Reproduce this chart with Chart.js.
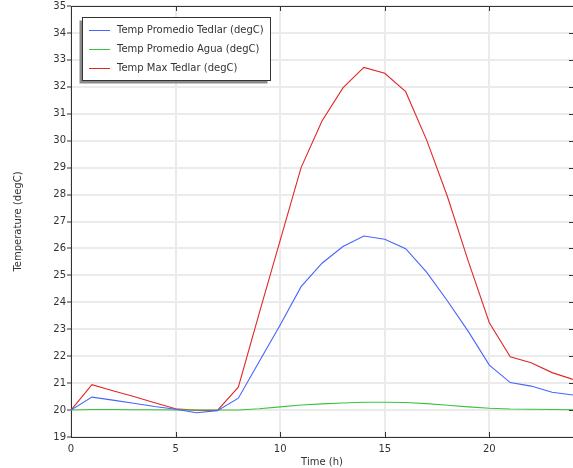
<!DOCTYPE html>
<html>
<head>
<meta charset="utf-8">
<script src="https://cdn.jsdelivr.net/npm/chart.js@4.4.0/dist/chart.umd.min.js"></script>
<style>
  body { margin: 0; background: #fff; }
  canvas { display: block; }
</style>
</head>
<body>
<canvas id="tempChart" width="573" height="468"></canvas>
<script>
// hourly readings, 0..24 h
const hours = [0, 1, 2, 3, 4, 5, 6, 7, 8, 9, 10, 11, 12, 13, 14, 15, 16, 17, 18, 19, 20, 21, 22, 23, 24];
const tedlarAvg = [20.0, 20.48, 20.37, 20.25, 20.13, 20.03, 19.9, 19.98, 20.44, 21.8, 23.16, 24.58, 25.45, 26.07, 26.46, 26.34, 25.99, 25.12, 24.05, 22.91, 21.67, 21.02, 20.89, 20.66, 20.56];
const waterAvg = [20.0, 20.02, 20.02, 20.01, 20.01, 20.0, 20.0, 20.0, 20.0, 20.05, 20.12, 20.19, 20.23, 20.26, 20.29, 20.29, 20.28, 20.24, 20.18, 20.12, 20.07, 20.04, 20.03, 20.02, 20.01];
const tedlarMax = [20.0, 20.94, 20.72, 20.5, 20.27, 20.05, 19.99, 19.99, 20.85, 23.6, 26.3, 29.0, 30.73, 31.96, 32.72, 32.5, 31.82, 30.03, 27.92, 25.51, 23.24, 21.98, 21.76, 21.39, 21.14];

const seriesLabels = ["Temp Promedio Tedlar (degC)", "Temp Promedio Agua (degC)", "Temp Max Tedlar (degC)"];
const seriesColors = ["rgb(70,100,255)", "rgb(60,195,60)", "rgb(225,40,40)"];
const xTickValues = [0, 5, 10, 15, 20];

const FONT = "DejaVu Sans";
const FONT_SIZE = 10;
const AXIS = "#333";

const toPoints = arr => hours.map((h, i) => ({ x: h, y: arr[i] }));

// box frame, inward ticks and the in-plot legend
const frameAndLegend = {
  id: "frameAndLegend",
  afterDatasetsDraw(chart) {
    const { ctx, chartArea: a, scales: { x, y } } = chart;
    ctx.save();
    ctx.strokeStyle = AXIS;
    ctx.lineWidth = 1;
    ctx.beginPath();
    ctx.moveTo(a.left, a.top + 0.5);
    ctx.lineTo(a.right, a.top + 0.5);
    xTickValues.forEach(v => {
      const px = Math.round(x.getPixelForValue(v)) + 0.5;
      ctx.moveTo(px, a.bottom);
      ctx.lineTo(px, a.bottom - 5);
      ctx.moveTo(px, a.top);
      ctx.lineTo(px, a.top + 5);
    });
    y.ticks.forEach(t => {
      const py = Math.round(y.getPixelForValue(t.value)) + 0.5;
      ctx.moveTo(a.right, py);
      ctx.lineTo(a.right - 4, py);
    });
    ctx.stroke();

    // legend box with a drop shadow
    const bx = 82.5, by = 17.5, bw = 188, bh = 63;
    ctx.fillStyle = "#8a8a8a";
    ctx.fillRect(bx - 3, by + 3, bw, bh);
    ctx.fillStyle = "#fff";
    ctx.fillRect(bx, by, bw, bh);
    ctx.strokeStyle = AXIS;
    ctx.strokeRect(bx, by, bw, bh);
    ctx.font = FONT_SIZE + "px '" + FONT + "'";
    ctx.textBaseline = "middle";
    chart.data.datasets.forEach((ds, i) => {
      const ry = 30 + i * 19;
      ctx.strokeStyle = ds.borderColor;
      ctx.beginPath();
      ctx.moveTo(89, ry + 0.5);
      ctx.lineTo(110, ry + 0.5);
      ctx.stroke();
      ctx.fillStyle = AXIS;
      ctx.fillText(ds.label, 117, ry + 0.5);
    });
    ctx.restore();
  }
};

new Chart(document.getElementById("tempChart"), {
  type: "line",
  data: {
    datasets: [
      { label: seriesLabels[0], data: toPoints(tedlarAvg), borderColor: seriesColors[0] },
      { label: seriesLabels[1], data: toPoints(waterAvg), borderColor: seriesColors[1] },
      { label: seriesLabels[2], data: toPoints(tedlarMax), borderColor: seriesColors[2] }
    ]
  },
  options: {
    responsive: false,
    animation: false,
    layout: { padding: { top: 6, right: 0, left: 0, bottom: 0 } },
    elements: {
      line: { borderWidth: 1.1, tension: 0, fill: false },
      point: { radius: 0 }
    },
    plugins: { legend: { display: false }, tooltip: { enabled: false } },
    scales: {
      x: {
        type: "linear",
        min: 0,
        max: 24,
        ticks: { stepSize: 5, color: AXIS, padding: 6, font: { family: FONT, size: FONT_SIZE } },
        afterBuildTicks: s => { s.ticks = xTickValues.map(v => ({ value: v })); },
        afterFit: s => { s.height = 31; s.paddingLeft = 0; s.paddingRight = 0; },
        grid: { color: "#ebebeb", lineWidth: 2, drawTicks: false },
        border: { color: AXIS, width: 1 },
        title: { display: true, text: "Time (h)", color: AXIS, padding: 0, font: { family: FONT, size: FONT_SIZE } }
      },
      y: {
        min: 19,
        max: 35,
        ticks: { stepSize: 1, color: AXIS, padding: 1, font: { family: FONT, size: FONT_SIZE } },
        afterFit: s => { s.width = 71; s.paddingTop = 0; s.paddingBottom = 0; },
        grid: { color: "#ebebeb", lineWidth: 2, tickColor: AXIS, tickLength: 4, tickWidth: 1 },
        border: { color: AXIS, width: 1 },
        title: { display: true, text: "Temperature (degC)", color: AXIS, padding: { top: 12, bottom: 0 }, font: { family: FONT, size: FONT_SIZE } }
      }
    }
  },
  plugins: [frameAndLegend]
});
</script>
</body>
</html>
